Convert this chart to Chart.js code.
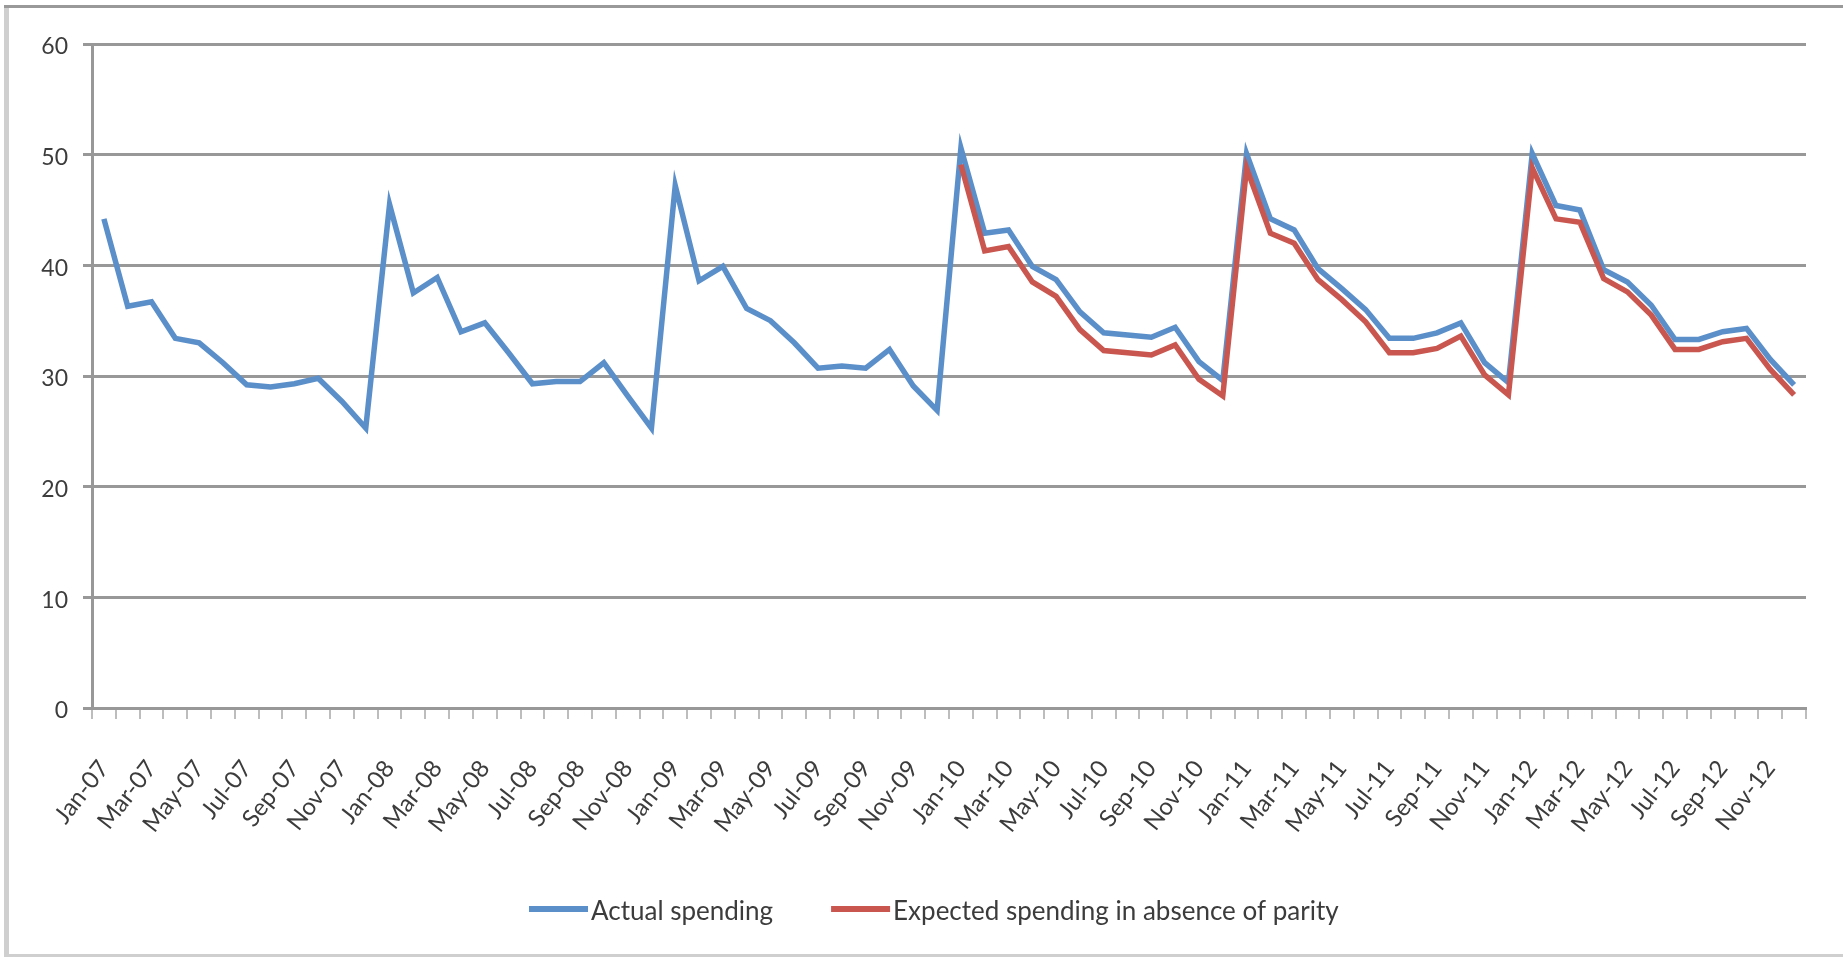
<!DOCTYPE html>
<html>
<head>
<meta charset="utf-8">
<title>Actual vs expected spending</title>
<script src="https://cdn.jsdelivr.net/npm/chart.js@4/dist/chart.umd.min.js"></script>
<style>
  html, body { margin: 0; padding: 0; background: #ffffff; }
  #wrap { position: relative; width: 1843px; height: 957px; }
</style>
</head>
<body>
<div id="wrap"><canvas id="chart"></canvas></div>
<script>
// Monthly series, Jan-07 .. Dec-12
const months = ['Jan', 'Feb', 'Mar', 'Apr', 'May', 'Jun', 'Jul', 'Aug', 'Sep', 'Oct', 'Nov', 'Dec'];
const years = ['07', '08', '09', '10', '11', '12'];

const actualSpending = [
  44.2, 36.3, 36.7, 33.4, 33.0, 31.2, 29.2, 29.0, 29.3, 29.8, 27.7, 25.3,
  45.5, 37.5, 38.9, 34.0, 34.8, 32.1, 29.3, 29.5, 29.5, 31.2, 28.2, 25.3,
  47.2, 38.6, 39.9, 36.1, 35.0, 33.0, 30.7, 30.9, 30.7, 32.4, 29.1, 26.9,
  50.6, 42.9, 43.2, 39.9, 38.7, 35.8, 33.9, 33.7, 33.5, 34.4, 31.3, 29.6,
  50.1, 44.2, 43.2, 39.7, 37.9, 36.0, 33.4, 33.4, 33.9, 34.8, 31.2, 29.4,
  50.1, 45.4, 45.0, 39.6, 38.5, 36.4, 33.3, 33.3, 34.0, 34.3, 31.5, 29.2
];

// Counterfactual series, only available from Jan-10 onward
const expectedFrom = 'Jan-10';
const expectedSpending = [
  49.1, 41.3, 41.7, 38.5, 37.2, 34.2, 32.3, 32.1, 31.9, 32.8, 29.7, 28.2,
  48.8, 42.9, 42.0, 38.7, 36.9, 34.9, 32.1, 32.1, 32.5, 33.6, 30.1, 28.3,
  48.8, 44.2, 43.9, 38.8, 37.6, 35.5, 32.4, 32.4, 33.1, 33.4, 30.6, 28.3
];

const yTicks = [0, 10, 20, 30, 40, 50, 60];
const seriesNames = ['Actual spending', 'Expected spending in absence of parity'];

const categories = [];
years.forEach(y => months.forEach(m => categories.push(m + '-' + y)));
const startIdx = categories.indexOf(expectedFrom);
const expectedData = categories.map((c, i) => i < startIdx ? null : expectedSpending[i - startIdx]);

const FONT = 'Lato, "Liberation Sans", sans-serif';
const BLUE = '#5b8fca';
const RED = '#c9574f';
const GRID = '#989898';
const TEXT = '#3c3c3c';

// Frame around the chart object and the key beneath the plot
const framePlugin = {
  id: 'frame',
  beforeDraw(chart) {
    const ctx = chart.ctx;
    ctx.save();
    ctx.fillStyle = '#ffffff';
    ctx.fillRect(0, 0, chart.width, chart.height);
    ctx.fillStyle = '#cfcfcf';
    ctx.fillRect(4, 5, 5, chart.height - 5);
    ctx.fillRect(8, chart.height - 3, chart.width - 8, 3);
    ctx.fillStyle = '#999999';
    ctx.fillRect(4, 5, chart.width - 4, 3);
    ctx.restore();
  },
  afterDraw(chart) {
    const ctx = chart.ctx;
    ctx.save();
    ctx.font = '26px ' + FONT;
    ctx.textBaseline = 'alphabetic';
    ctx.textAlign = 'left';
    let x = 529;
    chart.data.datasets.forEach(ds => {
      ctx.fillStyle = ds.borderColor;
      ctx.fillRect(x, 906, 59, 6);
      ctx.fillStyle = TEXT;
      ctx.fillText(ds.label, x + 62, 920);
      x += 62 + ctx.measureText(ds.label).width + 58;
    });
    ctx.restore();
  }
};

new Chart(document.getElementById('chart'), {
  type: 'line',
  data: {
    labels: categories,
    datasets: [
      {
        label: seriesNames[0],
        data: actualSpending,
        borderColor: BLUE,
        backgroundColor: BLUE,
        borderWidth: 5.5,
        pointRadius: 0,
        tension: 0,
        order: 2
      },
      {
        label: seriesNames[1],
        data: expectedData,
        borderColor: RED,
        backgroundColor: RED,
        borderWidth: 5.5,
        pointRadius: 0,
        tension: 0,
        spanGaps: false,
        order: 1
      }
    ]
  },
  options: {
    responsive: true,
    maintainAspectRatio: false,
    animation: false,
    devicePixelRatio: 1,
    layout: { autoPadding: false, padding: { left: 0, right: 37, top: 44, bottom: 0 } },
    plugins: {
      legend: { display: false },
      tooltip: { enabled: false }
    },
    scales: {
      x: {
        offset: true,
        grid: {
          offset: true,
          display: true,
          drawOnChartArea: false,
          drawTicks: true,
          tickLength: 11,
          color: '#bdbdbd',
          lineWidth: 2
        },
        border: { display: true, color: GRID, width: 3 },
        ticks: {
          autoSkip: false,
          minRotation: 52,
          maxRotation: 52,
          padding: 36,
          color: TEXT,
          font: { family: FONT, size: 24 },
          callback: function (value, index) {
            return index % 2 === 0 ? this.getLabelForValue(value) : '';
          }
        },
        afterFit(scale) {
          scale.height = 249;
          scale.paddingLeft = 0;
          scale.paddingRight = 0;
        }
      },
      y: {
        min: 0,
        max: 60,
        afterBuildTicks(scale) { scale.ticks = yTicks.map(v => ({ value: v })); },
        grid: {
          color: GRID,
          lineWidth: 3,
          drawTicks: true,
          tickLength: 9
        },
        border: { display: true, color: GRID, width: 3 },
        ticks: {
          padding: 15,
          labelOffset: 3,
          color: TEXT,
          font: { family: FONT, size: 23 }
        },
        afterFit(scale) {
          scale.width = 92;
          scale.paddingTop = 0;
          scale.paddingBottom = 0;
        }
      }
    }
  },
  plugins: [framePlugin]
});
</script>
</body>
</html>
